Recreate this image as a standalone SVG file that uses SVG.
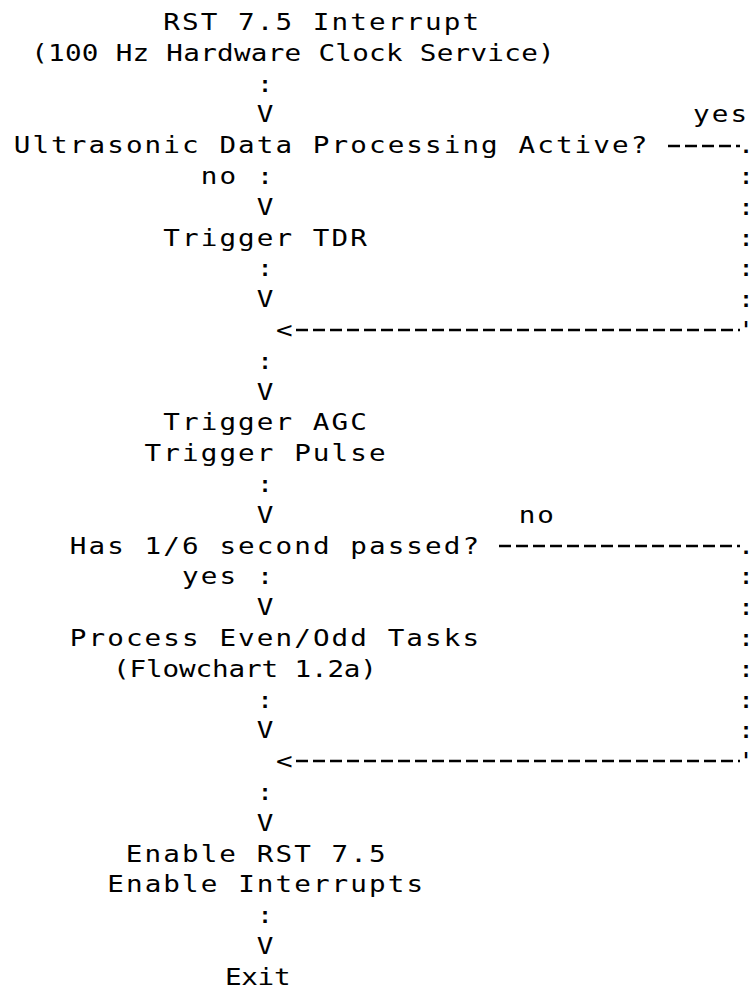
<svg xmlns="http://www.w3.org/2000/svg" width="755" height="992" viewBox="0 0 755 992">
  <style>
    .t { font-family: "DejaVu Sans Mono", "Liberation Mono", monospace; font-size: 23px; fill: #000; letter-spacing: 1.74px; }
    .c { font-family: "DejaVu Sans Mono", "Liberation Mono", monospace; font-size: 23px; fill: #000; text-anchor: middle; }
    .r { font-family: "DejaVu Sans Mono", "Liberation Mono", monospace; font-size: 23px; fill: #000; text-anchor: end; }
    .dash { stroke: #000; stroke-width: 2.6; stroke-dasharray: 12 5; fill: none; }
  </style>
  <rect width="755" height="992" fill="#fff"/>

  <!-- printer glyphs are wide: all text is drawn in a 1.2x horizontally stretched frame
       (grid pitch 18.7px = 15.583 in this frame) -->
  <g transform="scale(1.2 1)">
    <g id="n-rst-interrupt">
      <text class="t" x="136.1" y="30">RST 7.5 Interrupt</text>
      <text class="t" x="26" y="60.8" style="letter-spacing:0.24px">(100 Hz Hardware Clock Service)</text>
    </g>
    <g id="n-ultrasonic-active">
      <text class="t" x="11.45" y="153.2">Ultrasonic Data Processing Active?</text>
    </g>
    <g id="n-trigger-tdr">
      <text class="t" x="136.1" y="245.6">Trigger TDR</text>
    </g>
    <g id="n-trigger-agc-pulse">
      <text class="t" x="136.1" y="430.4">Trigger AGC</text>
      <text class="t" x="120.5" y="461.2">Trigger Pulse</text>
    </g>
    <g id="n-sixth-second">
      <text class="t" x="58.2" y="553.6">Has 1/6 second passed?</text>
    </g>
    <g id="n-even-odd-tasks">
      <text class="t" x="58.2" y="646">Process Even/Odd Tasks</text>
      <text class="t" x="94.2" y="676.8" style="letter-spacing:-0.1px">(Flowchart 1.2a)</text>
    </g>
    <g id="n-enable">
      <text class="t" x="104.9" y="861.6">Enable RST 7.5</text>
      <text class="t" x="89.4" y="892.4">Enable Interrupts</text>
    </g>
    <g id="n-exit">
      <text class="t" x="187.5" y="984.8" style="letter-spacing:-0.25px">Exit</text>
    </g>

    <!-- connectors: typed colons and V arrowheads of the main flow -->
    <g id="connectors">
      <text class="c" x="220.8" y="91.6">:</text>
      <text class="c" x="220.8" y="122.4">V</text>
      <text class="c" x="220.8" y="184">:</text>
      <text class="c" x="220.8" y="214.8">V</text>
      <text class="c" x="220.8" y="276.4">:</text>
      <text class="c" x="220.8" y="307.2">V</text>
      <text class="c" x="220.8" y="368.8">:</text>
      <text class="c" x="220.8" y="399.6">V</text>
      <text class="c" x="220.8" y="492">:</text>
      <text class="c" x="220.8" y="522.8">V</text>
      <text class="c" x="220.8" y="584.4">:</text>
      <text class="c" x="220.8" y="615.2">V</text>
      <text class="c" x="220.8" y="707.6">:</text>
      <text class="c" x="220.8" y="738.4">V</text>
      <text class="c" x="220.8" y="800">:</text>
      <text class="c" x="220.8" y="830.8">V</text>
      <text class="c" x="220.8" y="923.2">:</text>
      <text class="c" x="220.8" y="954">V</text>

      <!-- branch labels -->
      <text class="t" x="577.5" y="122.4">yes</text>
      <text class="t" x="167.3" y="184">no</text>
      <text class="t" x="432.2" y="522.8">no</text>
      <text class="t" x="151.7" y="584.4">yes</text>

      <!-- right-hand bypass columns, set flush against the right margin -->
      <text class="r" x="628.6" y="153.2">.</text>
      <text class="r" x="628.6" y="184">:</text>
      <text class="r" x="628.6" y="214.8">:</text>
      <text class="r" x="628.6" y="245.6">:</text>
      <text class="r" x="628.6" y="276.4">:</text>
      <text class="r" x="628.6" y="307.2">:</text>
      <text class="r" x="628.6" y="338">'</text>
      <text class="c" x="237" y="338">&lt;</text>

      <text class="r" x="628.6" y="553.6">.</text>
      <text class="r" x="628.6" y="584.4">:</text>
      <text class="r" x="628.6" y="615.2">:</text>
      <text class="r" x="628.6" y="646">:</text>
      <text class="r" x="628.6" y="676.8">:</text>
      <text class="r" x="628.6" y="707.6">:</text>
      <text class="r" x="628.6" y="738.4">:</text>
      <text class="r" x="628.6" y="769.2">'</text>
      <text class="c" x="237" y="769.2">&lt;</text>
    </g>
  </g>

  <!-- dashed runs of the bypass connectors -->
  <g id="connector-lines">
    <line class="dash" x1="668" y1="146" x2="740" y2="146"/>
    <line class="dash" x1="296" y1="330" x2="740" y2="330"/>
    <line class="dash" x1="499" y1="546" x2="740" y2="546"/>
    <line class="dash" x1="296" y1="761" x2="740" y2="761"/>
  </g>
</svg>
